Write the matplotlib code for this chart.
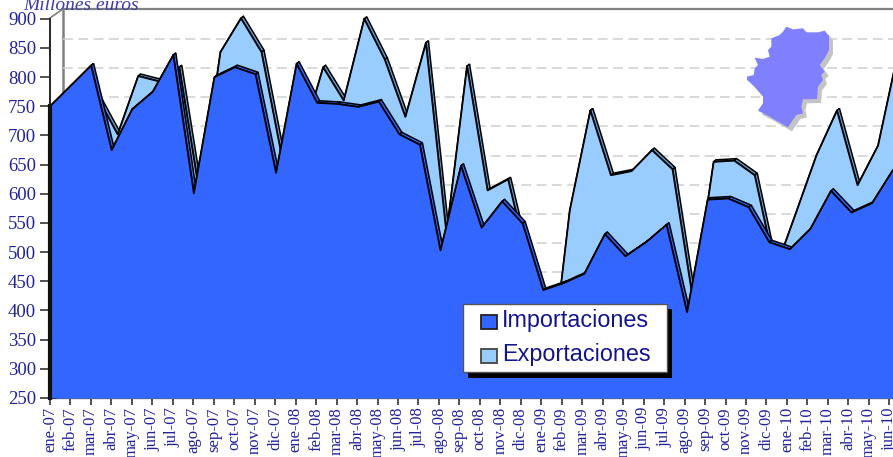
import numpy as np
import matplotlib
matplotlib.use("Agg")
import matplotlib.pyplot as plt
from matplotlib.patches import Polygon, Rectangle

months = ["ene-07", "feb-07", "mar-07", "abr-07", "may-07", "jun-07", "jul-07", "ago-07", "sep-07", "oct-07", "nov-07", "dic-07",
          "ene-08", "feb-08", "mar-08", "abr-08", "may-08", "jun-08", "jul-08", "ago-08", "sep-08", "oct-08", "nov-08", "dic-08",
          "ene-09", "feb-09", "mar-09", "abr-09", "may-09", "jun-09", "jul-09", "ago-09", "sep-09", "oct-09", "nov-09", "dic-09",
          "ene-10", "feb-10", "mar-10", "abr-10", "may-10", "jun-10"]

importaciones = [750, 785, 820, 675, 745, 775, 838, 601, 800, 817, 805, 636,
                 823, 756, 754, 749, 758, 702, 684, 503, 648, 542, 587, 549,
                 435, 447, 463, 531, 493, 517, 547, 397, 590, 592, 577, 517,
                 505, 540, 605, 568, 584, 640]

exportaciones = [735, 750, 760, 695, 795, 786, 810, 590, 836, 894, 836, 655,
                 690, 810, 753, 893, 823, 725, 852, 525, 812, 599, 618, 470,
                 265, 565, 736, 625, 632, 668, 635, 410, 648, 650, 625, 462,
                 560, 659, 736, 608, 676, 840]

y_ticks = list(range(250, 901, 50))
grid_values = list(range(450, 851, 50))

map_outline = [(580, 80), (600, 88), (630, 85), (640, 97), (675, 97), (695, 92), (708, 108), (708, 150),
               (695, 175), (680, 195), (695, 215), (685, 225), (690, 240), (675, 260), (672, 297), (630, 298),
               (625, 320), (630, 340), (610, 345), (585, 382), (555, 365), (530, 350), (495, 332), (510, 310),
               (510, 290), (480, 255), (462, 240), (462, 230), (482, 225), (485, 205), (495, 195), (485, 173),
               (510, 177), (530, 170), (525, 150), (535, 140), (535, 115), (560, 105), (570, 95)]

TEXT_BLUE = "#22229a"
LEGEND_BLUE = "#14148c"
IMP_FRONT = "#3366ff"
EXP_FRONT = "#99ccff"
EXP_SIDE = "#6699cc"

# pixels per unit, used to turn the fake 3D depth into data units
PX_X = 20.47
PX_Y = 29.17 / 50

fig = plt.figure(figsize=(8.93, 4.57), dpi=100)
ax = fig.add_axes([50 / 893, 59 / 457, 843 / 893, 398 / 457])
ax.set_xlim(0, 843 / PX_X)
ax.set_ylim(250, 250 + 398 / PX_Y)
for side in ["top", "right"]:
    ax.spines[side].set_visible(False)
ax.spines["left"].set_linewidth(1.2)
ax.spines["left"].set_bounds(250, 900)
ax.spines["bottom"].set_linewidth(1.6)
ax.set_axisbelow(False)

ax.set_yticks(y_ticks)
ax.set_yticklabels(y_ticks, family="Liberation Serif", fontsize=13.5, color=TEXT_BLUE)
ax.set_xticks(range(len(months)))
ax.set_xticklabels(months, rotation=90, family="Liberation Serif", fontsize=12, color=TEXT_BLUE)
ax.tick_params(axis="y", length=7, width=1.2, color="#333333", pad=3)
ax.tick_params(axis="x", length=5, width=1.2, color="#333333", pad=1.5)


def depth_area(xs, ys, front, side, dx, dy, off_x=0.0, off_y=0.0, z=3):
    # area with a thin extruded side so it looks like the old 3D excel charts
    xs = np.array(xs) + off_x / PX_X
    ys = np.array(ys) + off_y / PX_Y
    ddx = dx / PX_X
    ddy = dy / PX_Y
    for i in range(len(xs) - 1):
        quad = [(xs[i], ys[i]), (xs[i + 1], ys[i + 1]), (xs[i + 1] + ddx, ys[i + 1] + ddy), (xs[i] + ddx, ys[i] + ddy)]
        ax.add_patch(Polygon(quad, facecolor=side, edgecolor="black", lw=1.1, zorder=z))
    ax.fill_between(xs, 250, ys, color=front, lw=0, zorder=z + 0.1)
    ax.plot(xs, ys, color="black", lw=1.3, zorder=z + 0.2)


x = np.arange(len(months)) * 1.004
depth_area(x, exportaciones, EXP_FRONT, EXP_SIDE, 2.5, 2, off_x=6, off_y=4, z=3)
depth_area(x, importaciones, IMP_FRONT, IMP_FRONT, 2.5, 2, z=4)
# heavy left edge of the front area
ax.plot([0, 0], [250, importaciones[0]], color="#111111", lw=3, zorder=5, clip_on=False)

# back wall grid, pushed up and right of the front axis
ax.hlines([v + 9 / PX_Y for v in grid_values], 13 / PX_X, 843 / PX_X, color="#d0d0d0", lw=1.1,
          linestyles=(0, (6.5, 3.5)), zorder=1)

# everything else is placed in pixels on a full figure overlay
over = fig.add_axes([0, 0, 1, 1], zorder=5)
over.set_xlim(0, 893)
over.set_ylim(457, 0)
over.axis("off")
back = fig.add_axes([0, 0, 1, 1], zorder=-1)
back.set_xlim(0, 893)
back.set_ylim(457, 0)
back.axis("off")
ax.patch.set_alpha(0)

back.plot([63, 893], [9, 9], color="#808080", lw=1.6)
back.plot([63, 63], [9, 389], color="#808080", lw=1.8)
back.plot([50, 63], [18, 9], color="#808080", lw=1.2)

over.text(23, 10, "Millones euros", family="Liberation Serif", style="italic", fontsize=14,
          color="#3c3ca8", va="baseline")

# map of Aragon
outline = np.array(map_outline) / 3 + np.array([593, 0])
over.add_patch(Polygon(outline + 4, facecolor="#c4c4c4", edgecolor="none"))
over.add_patch(Polygon(outline, facecolor="#8080ff", edgecolor="none"))

# legend with hard shadow
over.add_patch(Rectangle((468, 309), 204, 69, facecolor="black", edgecolor="none"))
over.add_patch(Rectangle((463, 304), 204, 68, facecolor="white", edgecolor="#555555", lw=1))
over.add_patch(Rectangle((480.5, 315), 16, 14, facecolor=IMP_FRONT, edgecolor="#222222", lw=1.3))
over.add_patch(Rectangle((480.5, 348.5), 16, 14, facecolor=EXP_FRONT, edgecolor="#444444", lw=1.3))
over.text(502, 321, "Importaciones", family="Liberation Sans", fontsize=16.8, color=LEGEND_BLUE, va="center")
over.text(502, 355, "Exportaciones", family="Liberation Sans", fontsize=16.8, color=LEGEND_BLUE, va="center")

fig.savefig("out.png", dpi=100)
